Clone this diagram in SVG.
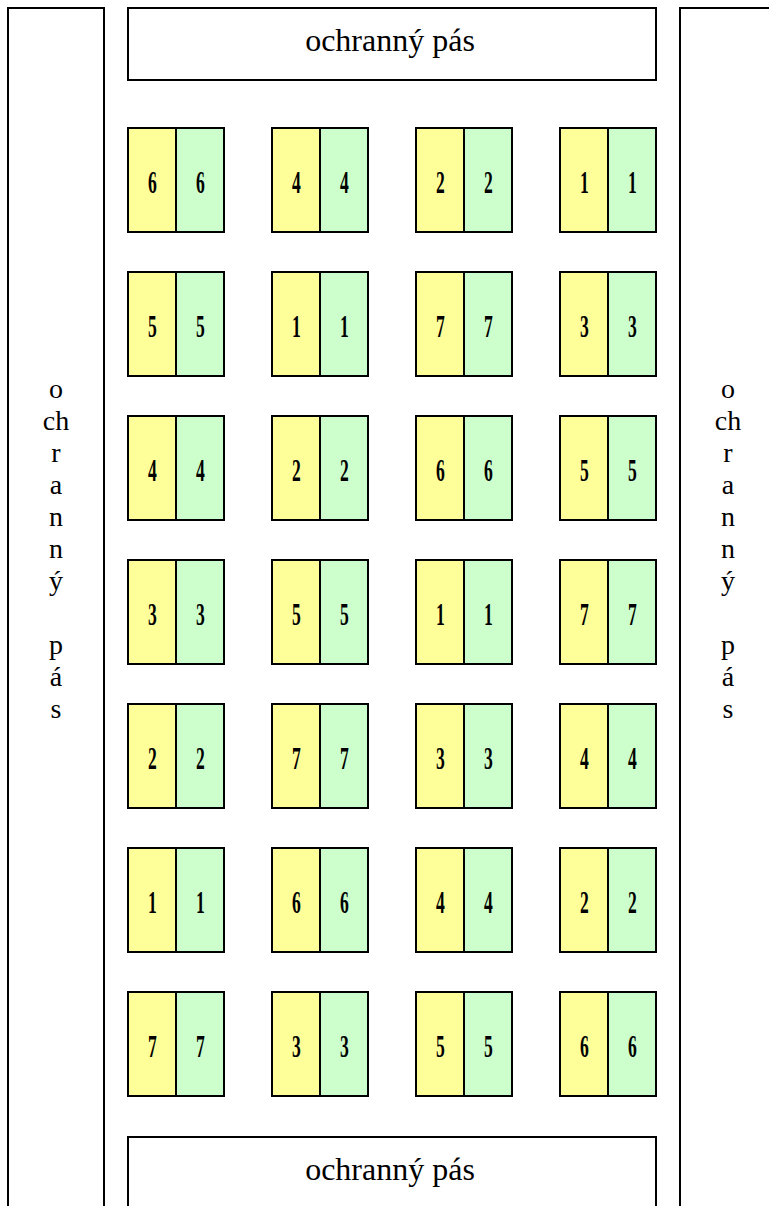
<svg xmlns="http://www.w3.org/2000/svg" width="769" height="1206" viewBox="0 0 769 1206">
<style>
.strip{fill:#fff;stroke:#000;stroke-width:2}
.y{fill:#ffff99;stroke:#000;stroke-width:2}
.g{fill:#ccffcc;stroke:#000;stroke-width:2}
.lbl{font-family:"Liberation Serif","Times New Roman",serif;font-size:32px;fill:#000;text-anchor:middle}
.vt{font-family:"Liberation Serif","Times New Roman",serif;font-size:28px;fill:#000;text-anchor:middle}
.num{font-family:"Liberation Serif","Times New Roman",serif;font-size:32px;font-weight:bold;fill:#000;text-anchor:middle}
</style>
<rect width="769" height="1206" fill="#fff"/>
<g id="left-strip">
<rect class="strip" x="8" y="8" width="96" height="1210"/>
<text class="vt" x="56"><tspan x="56" y="398">o</tspan><tspan x="56" y="430">ch</tspan><tspan x="56" y="462">r</tspan><tspan x="56" y="494">a</tspan><tspan x="56" y="526">n</tspan><tspan x="56" y="558">n</tspan><tspan x="56" y="590">ý</tspan><tspan x="56" y="654">p</tspan><tspan x="56" y="686">á</tspan><tspan x="56" y="718">s</tspan></text>
</g>
<g id="right-strip">
<rect class="strip" x="680" y="8" width="96" height="1210"/>
<text class="vt" x="728"><tspan x="728" y="398">o</tspan><tspan x="728" y="430">ch</tspan><tspan x="728" y="462">r</tspan><tspan x="728" y="494">a</tspan><tspan x="728" y="526">n</tspan><tspan x="728" y="558">n</tspan><tspan x="728" y="590">ý</tspan><tspan x="728" y="654">p</tspan><tspan x="728" y="686">á</tspan><tspan x="728" y="718">s</tspan></text>
</g>
<g id="top-strip">
<rect class="strip" x="128" y="8" width="528" height="72"/>
<text class="lbl" x="390" y="51">ochranný pás</text>
</g>
<g id="bottom-strip">
<rect class="strip" x="128" y="1137" width="528" height="90"/>
<text class="lbl" x="390" y="1180">ochranný pás</text>
</g>
<g id="tiles">
<g id="r1">
<g id="t-1-1"><rect class="y" x="128" y="128" width="48" height="104"/><rect class="g" x="176" y="128" width="48" height="104"/><text class="num" transform="translate(152.5,193) scale(0.55,1)">6</text><text class="num" transform="translate(200.5,193) scale(0.55,1)">6</text></g>
<g id="t-1-2"><rect class="y" x="272" y="128" width="48" height="104"/><rect class="g" x="320" y="128" width="48" height="104"/><text class="num" transform="translate(296.5,193) scale(0.55,1)">4</text><text class="num" transform="translate(344.5,193) scale(0.55,1)">4</text></g>
<g id="t-1-3"><rect class="y" x="416" y="128" width="48" height="104"/><rect class="g" x="464" y="128" width="48" height="104"/><text class="num" transform="translate(440.5,193) scale(0.55,1)">2</text><text class="num" transform="translate(488.5,193) scale(0.55,1)">2</text></g>
<g id="t-1-4"><rect class="y" x="560" y="128" width="48" height="104"/><rect class="g" x="608" y="128" width="48" height="104"/><text class="num" transform="translate(584.5,193) scale(0.55,1)">1</text><text class="num" transform="translate(632.5,193) scale(0.55,1)">1</text></g>
</g>
<g id="r2">
<g id="t-2-1"><rect class="y" x="128" y="272" width="48" height="104"/><rect class="g" x="176" y="272" width="48" height="104"/><text class="num" transform="translate(152.5,337) scale(0.55,1)">5</text><text class="num" transform="translate(200.5,337) scale(0.55,1)">5</text></g>
<g id="t-2-2"><rect class="y" x="272" y="272" width="48" height="104"/><rect class="g" x="320" y="272" width="48" height="104"/><text class="num" transform="translate(296.5,337) scale(0.55,1)">1</text><text class="num" transform="translate(344.5,337) scale(0.55,1)">1</text></g>
<g id="t-2-3"><rect class="y" x="416" y="272" width="48" height="104"/><rect class="g" x="464" y="272" width="48" height="104"/><text class="num" transform="translate(440.5,337) scale(0.55,1)">7</text><text class="num" transform="translate(488.5,337) scale(0.55,1)">7</text></g>
<g id="t-2-4"><rect class="y" x="560" y="272" width="48" height="104"/><rect class="g" x="608" y="272" width="48" height="104"/><text class="num" transform="translate(584.5,337) scale(0.55,1)">3</text><text class="num" transform="translate(632.5,337) scale(0.55,1)">3</text></g>
</g>
<g id="r3">
<g id="t-3-1"><rect class="y" x="128" y="416" width="48" height="104"/><rect class="g" x="176" y="416" width="48" height="104"/><text class="num" transform="translate(152.5,481) scale(0.55,1)">4</text><text class="num" transform="translate(200.5,481) scale(0.55,1)">4</text></g>
<g id="t-3-2"><rect class="y" x="272" y="416" width="48" height="104"/><rect class="g" x="320" y="416" width="48" height="104"/><text class="num" transform="translate(296.5,481) scale(0.55,1)">2</text><text class="num" transform="translate(344.5,481) scale(0.55,1)">2</text></g>
<g id="t-3-3"><rect class="y" x="416" y="416" width="48" height="104"/><rect class="g" x="464" y="416" width="48" height="104"/><text class="num" transform="translate(440.5,481) scale(0.55,1)">6</text><text class="num" transform="translate(488.5,481) scale(0.55,1)">6</text></g>
<g id="t-3-4"><rect class="y" x="560" y="416" width="48" height="104"/><rect class="g" x="608" y="416" width="48" height="104"/><text class="num" transform="translate(584.5,481) scale(0.55,1)">5</text><text class="num" transform="translate(632.5,481) scale(0.55,1)">5</text></g>
</g>
<g id="r4">
<g id="t-4-1"><rect class="y" x="128" y="560" width="48" height="104"/><rect class="g" x="176" y="560" width="48" height="104"/><text class="num" transform="translate(152.5,625) scale(0.55,1)">3</text><text class="num" transform="translate(200.5,625) scale(0.55,1)">3</text></g>
<g id="t-4-2"><rect class="y" x="272" y="560" width="48" height="104"/><rect class="g" x="320" y="560" width="48" height="104"/><text class="num" transform="translate(296.5,625) scale(0.55,1)">5</text><text class="num" transform="translate(344.5,625) scale(0.55,1)">5</text></g>
<g id="t-4-3"><rect class="y" x="416" y="560" width="48" height="104"/><rect class="g" x="464" y="560" width="48" height="104"/><text class="num" transform="translate(440.5,625) scale(0.55,1)">1</text><text class="num" transform="translate(488.5,625) scale(0.55,1)">1</text></g>
<g id="t-4-4"><rect class="y" x="560" y="560" width="48" height="104"/><rect class="g" x="608" y="560" width="48" height="104"/><text class="num" transform="translate(584.5,625) scale(0.55,1)">7</text><text class="num" transform="translate(632.5,625) scale(0.55,1)">7</text></g>
</g>
<g id="r5">
<g id="t-5-1"><rect class="y" x="128" y="704" width="48" height="104"/><rect class="g" x="176" y="704" width="48" height="104"/><text class="num" transform="translate(152.5,769) scale(0.55,1)">2</text><text class="num" transform="translate(200.5,769) scale(0.55,1)">2</text></g>
<g id="t-5-2"><rect class="y" x="272" y="704" width="48" height="104"/><rect class="g" x="320" y="704" width="48" height="104"/><text class="num" transform="translate(296.5,769) scale(0.55,1)">7</text><text class="num" transform="translate(344.5,769) scale(0.55,1)">7</text></g>
<g id="t-5-3"><rect class="y" x="416" y="704" width="48" height="104"/><rect class="g" x="464" y="704" width="48" height="104"/><text class="num" transform="translate(440.5,769) scale(0.55,1)">3</text><text class="num" transform="translate(488.5,769) scale(0.55,1)">3</text></g>
<g id="t-5-4"><rect class="y" x="560" y="704" width="48" height="104"/><rect class="g" x="608" y="704" width="48" height="104"/><text class="num" transform="translate(584.5,769) scale(0.55,1)">4</text><text class="num" transform="translate(632.5,769) scale(0.55,1)">4</text></g>
</g>
<g id="r6">
<g id="t-6-1"><rect class="y" x="128" y="848" width="48" height="104"/><rect class="g" x="176" y="848" width="48" height="104"/><text class="num" transform="translate(152.5,913) scale(0.55,1)">1</text><text class="num" transform="translate(200.5,913) scale(0.55,1)">1</text></g>
<g id="t-6-2"><rect class="y" x="272" y="848" width="48" height="104"/><rect class="g" x="320" y="848" width="48" height="104"/><text class="num" transform="translate(296.5,913) scale(0.55,1)">6</text><text class="num" transform="translate(344.5,913) scale(0.55,1)">6</text></g>
<g id="t-6-3"><rect class="y" x="416" y="848" width="48" height="104"/><rect class="g" x="464" y="848" width="48" height="104"/><text class="num" transform="translate(440.5,913) scale(0.55,1)">4</text><text class="num" transform="translate(488.5,913) scale(0.55,1)">4</text></g>
<g id="t-6-4"><rect class="y" x="560" y="848" width="48" height="104"/><rect class="g" x="608" y="848" width="48" height="104"/><text class="num" transform="translate(584.5,913) scale(0.55,1)">2</text><text class="num" transform="translate(632.5,913) scale(0.55,1)">2</text></g>
</g>
<g id="r7">
<g id="t-7-1"><rect class="y" x="128" y="992" width="48" height="104"/><rect class="g" x="176" y="992" width="48" height="104"/><text class="num" transform="translate(152.5,1057) scale(0.55,1)">7</text><text class="num" transform="translate(200.5,1057) scale(0.55,1)">7</text></g>
<g id="t-7-2"><rect class="y" x="272" y="992" width="48" height="104"/><rect class="g" x="320" y="992" width="48" height="104"/><text class="num" transform="translate(296.5,1057) scale(0.55,1)">3</text><text class="num" transform="translate(344.5,1057) scale(0.55,1)">3</text></g>
<g id="t-7-3"><rect class="y" x="416" y="992" width="48" height="104"/><rect class="g" x="464" y="992" width="48" height="104"/><text class="num" transform="translate(440.5,1057) scale(0.55,1)">5</text><text class="num" transform="translate(488.5,1057) scale(0.55,1)">5</text></g>
<g id="t-7-4"><rect class="y" x="560" y="992" width="48" height="104"/><rect class="g" x="608" y="992" width="48" height="104"/><text class="num" transform="translate(584.5,1057) scale(0.55,1)">6</text><text class="num" transform="translate(632.5,1057) scale(0.55,1)">6</text></g>
</g>
</g>
<g id="connectors"/>
</svg>
